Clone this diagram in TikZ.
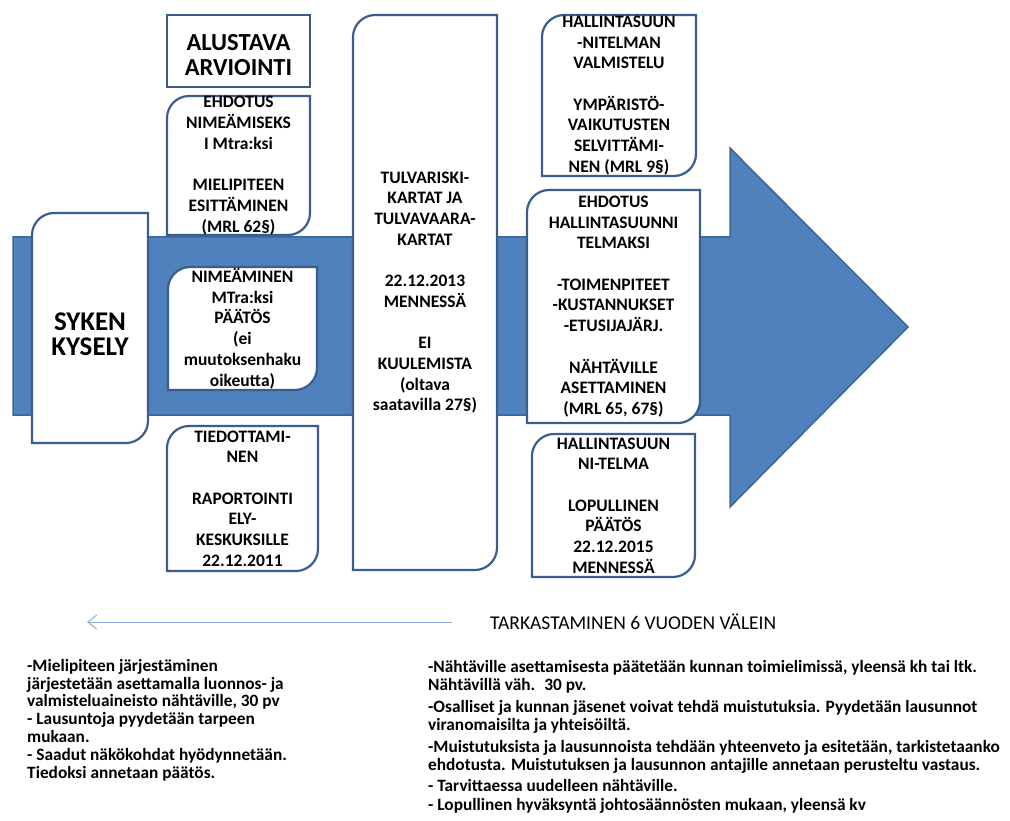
\documentclass[tikz,border=0pt]{standalone}
\usepackage{fontspec}
\setmainfont{Carlito}
\usetikzlibrary{arrows.meta}

\definecolor{arrowblue}{HTML}{4F81BD}
\definecolor{arrowedge}{HTML}{3E6597}
\definecolor{frameblue}{HTML}{3A5D8C}
\definecolor{lineblue}{HTML}{8FAAD2}

\tikzset{
  frame/.style={draw=frameblue, line width=2.2pt, fill=white},
  boxtext/.style={align=center, inner sep=0pt, font=\bfseries\fontsize{17.5}{20.7}\selectfont},
  bigtext/.style={align=center, inner sep=0pt, font=\bfseries\fontsize{24.5}{25}\selectfont},
  notetext/.style={align=left, inner sep=0pt, anchor=north west, font=\bfseries\fontsize{17.3}{17.8}\selectfont}
}

% box with rounded top left and bottom right corners: name, left, top, right, bottom, text
\newcommand\roundbox[6]{%
  \draw[frame] (#4,#3) -- ({#2+22},#3) .. controls ({#2+10},#3) and (#2,{#3+10}) .. (#2,{#3+22})
    -- (#2,#5) -- ({#4-22},#5) .. controls ({#4-10},#5) and (#4,{#5-10}) .. (#4,{#5-22}) -- cycle;
  \node[boxtext] (#1) at ({(#2+#4)/2},{(#3+#5)/2}) {#6};}

\begin{document}
\begin{tikzpicture}[x=1pt, y=-1pt]
    \useasboundingbox (0,0) rectangle (1010,821);

    % Big arrow
    \draw[fill=arrowblue, draw=arrowedge, line width=1.5pt, line join=miter]
      (13,237) -- (730,237) -- (730,148) -- (908,327) -- (730,507) -- (730,415) -- (13,415) -- cycle;

    % Left column
    \draw[frame] (167,15) rectangle (310,87);
    \node[bigtext] (arvio) at (238.5,55) {ALUSTAVA\\ARVIOINTI};
    \roundbox{ehdotus}{167}{96}{310}{235}{EHDOTUS\\NIMEÄMISEKS\\I Mtra:ksi\\[20.7pt]MIELIPITEEN\\ESITTÄMINEN\\(MRL 62§)}
    \roundbox{kysely}{32}{213}{148}{443}{}
    \node[bigtext, font=\bfseries\fontsize{27}{25}\selectfont] (syke) at (90,334) {SYKEN\\KYSELY};
    \roundbox{nimeaminen}{168}{267}{317}{390}{NIMEÄMINEN\\MTra:ksi\\PÄÄTÖS\\(ei\\muutoksenhaku\\oikeutta)}
    \roundbox{tiedotus}{167}{426}{318}{571}{TIEDOTTAMI-\\NEN\\[20.7pt]RAPORTOINTI\\ELY-\\KESKUKSILLE\\22.12.2011}

    % Middle column
    \roundbox{kartat}{353}{15}{497}{570}{TULVARISKI-\\KARTAT JA\\TULVAVAARA-\\KARTAT\\[20.7pt]22.12.2013\\MENNESSÄ\\[20.7pt]EI\\KUULEMISTA\\(oltava\\saatavilla 27§)}

    % Right column
    \roundbox{valmistelu}{542}{15}{696}{176}{HALLINTASUUN\\-NITELMAN\\VALMISTELU\\[20.7pt]YMPÄRISTÖ-\\VAIKUTUSTEN\\SELVITTÄMI-\\NEN (MRL 9§)}
    \roundbox{ehdotushs}{527}{190}{700}{423}{EHDOTUS\\HALLINTASUUNNI\\TELMAKSI\\[20.7pt]-TOIMENPITEET\\-KUSTANNUKSET\\-ETUSIJAJÄRJ.\\[20.7pt]NÄHTÄVILLE\\ASETTAMINEN\\(MRL 65, 67§)}
    \roundbox{paatos}{532}{434}{695}{577}{HALLINTASUUN\\NI-TELMA\\[20.7pt]LOPULLINEN\\PÄÄTÖS\\22.12.2015\\MENNESSÄ}

    % Review cycle
    \coordinate (cyclestart) at (452,622);
    \coordinate (cycleend) at (87,622);
    \draw[lineblue, line width=1pt, -{Straight Barb[length=9pt, width=14pt]}] (cyclestart) -- (cycleend);
    \node[inner sep=0pt, anchor=west, font=\fontsize{19.5}{20}\selectfont] (tarkastus) at (490,622) {TARKASTAMINEN 6 VUODEN VÄLEIN};

    % Notes
    \node[notetext] (leftnotes) at (27,659) {-Mielipiteen järjestäminen\\
      järjestetään asettamalla luonnos- ja\\
      valmisteluaineisto nähtäville, 30 pv\\
      - Lausuntoja pyydetään tarpeen\\
      mukaan.\\
      - Saadut näkökohdat hyödynnetään.\\
      Tiedoksi annetaan päätös.};
    \node[notetext] (rightnotes) at (428,660) {-Nähtäville asettamisesta päätetään kunnan toimielimissä, yleensä kh tai ltk.\\
      Nähtävillä väh. \ 30 pv.\\[4.5pt]
      -Osalliset ja kunnan jäsenet voivat tehdä muistutuksia. Pyydetään lausunnot\\
      viranomaisilta ja yhteisöiltä.\\[4.5pt]
      -Muistutuksista ja lausunnoista tehdään yhteenveto ja esitetään, tarkistetaanko\\
      ehdotusta. Muistutuksen ja lausunnon antajille annetaan perusteltu vastaus.\\[3pt]
      - Tarvittaessa uudelleen nähtäville.\\[2pt]
      - Lopullinen hyväksyntä johtosäännösten mukaan, yleensä kv};
\end{tikzpicture}
\end{document}
